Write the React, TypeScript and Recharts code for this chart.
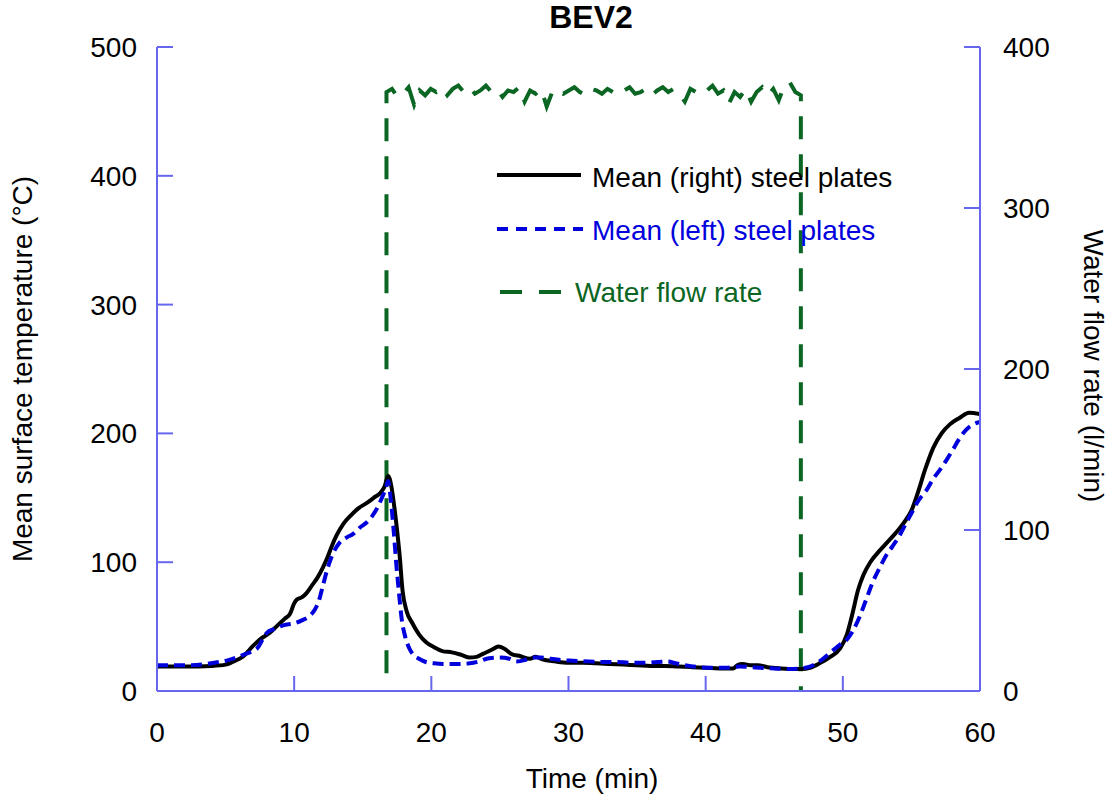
import { ComposedChart, Line, XAxis, YAxis, Legend } from "recharts"

const FONT = "'Liberation Sans', Arial, Helvetica, sans-serif"
const AXIS = "#6666ee"
const BLACK = "#000000"
const BLUE = "#0000dd"
const GREEN = "#0b6623"

const timeTicks = [0, 10, 20, 30, 40, 50, 60]
const tempTicks = [0, 100, 200, 300, 400, 500]
const flowTicks = [0, 100, 200, 300, 400]

// mean (right) steel plates, time in min / temperature in °C
const rightTimes = [
  0, 2, 4, 5, 5.5, 6.3, 7, 7.5, 8.2, 8.7, 9.3, 9.7, 10, 10.2, 10.6, 10.9, 11.3, 11.7, 12.1, 12.4,
  12.8, 13.1, 13.6, 14.1, 14.7, 15.3, 15.8, 16.3, 16.6, 16.85, 17.1, 17.3, 17.5, 17.7, 17.9, 18.2,
  18.6, 19.1, 19.6, 20.2, 20.8, 21.5, 22.2, 22.8, 23.3, 23.8, 24.4, 24.9, 25.3, 25.8, 26.5, 27.2,
  27.6, 28.1, 29, 30, 31, 32, 33, 34, 35, 36, 37, 38, 39, 40, 41, 42, 42.3, 42.7, 43.3, 43.8, 44.5,
  45.5, 46.5, 47, 47.6, 48.3, 49, 49.8, 50.3, 50.7, 51.1, 51.5, 52, 52.6, 53.2, 53.8, 54.4, 55,
  55.5, 56, 56.6, 57.2, 57.8, 58.5, 59.2, 60,
]
const rightTemps = [
  19, 19, 19.5, 20.5, 22.5, 27, 35, 40, 45, 50, 56, 60, 68, 71, 73, 76, 82, 88, 96, 103,
  114, 121, 130, 136, 142, 146, 150, 154, 159, 167, 158, 143, 125, 104, 78, 62,
  53, 44, 38, 34, 31, 30, 28, 26, 26.5, 29, 32, 34.5, 33, 29, 27, 25,
  26.5, 24.5, 23, 22, 22, 21.5, 21, 20.5, 20, 19.5, 19.5, 19, 18.5, 18, 17.5, 17.5, 20, 21, 20, 20, 18.5,
  17.5, 17, 17, 18, 21.5, 26, 33, 44, 60, 78, 90, 100, 108, 115, 122, 130, 140,
  155, 172, 189, 200, 207, 212, 216, 215,
]

// mean (left) steel plates
const leftTimes = [
  0, 2, 3.6, 4.5, 5.2, 5.8, 6.5, 7, 7.3, 7.7, 8, 8.5, 9.2, 10, 10.6, 11.1, 11.5, 11.8, 12.1, 12.4,
  12.8, 13.3, 13.8, 14.3, 14.8, 15.3, 15.7, 16.1, 16.4, 16.7, 16.85, 17.05, 17.25, 17.45, 17.65,
  17.85, 18.1, 18.4, 18.7, 19.1, 19.6, 20.2, 21, 22, 22.8, 23.5, 24.2, 25, 25.7, 26.2, 26.8, 27.3,
  28, 28.7, 29.5, 30.3, 31.5, 32.5, 33.5, 34.5, 35.5, 36.5, 37.2, 37.8, 38.5, 39.5, 40.5, 41.5,
  42.5, 43.3, 44, 45, 46, 46.9, 47.6, 48.3, 49.1, 49.8, 50.3, 50.8, 51.2, 51.7, 52.2, 52.7, 53.2,
  53.6, 54.1, 54.6, 55, 55.4, 55.8, 56.1, 56.6, 57.1, 57.6, 58, 58.5, 59, 59.5, 60,
]
const leftTemps = [
  20, 20, 21, 22.5, 24, 26, 29, 31, 33, 40, 45, 48, 51, 52.5, 55, 58, 63, 70, 82, 94,
  106, 115, 119, 122, 127, 131, 136, 143, 150, 158, 163, 148, 125, 98, 75,
  55, 42, 33, 28, 25, 22.5, 21.5, 21, 21, 21.5, 23, 25.5, 26, 25, 23, 24, 26,
  26, 25, 24, 23.5, 23, 22.5, 22.5, 22, 22, 22.5, 23, 21.5, 20, 18.5, 18, 18,
  19, 18.5, 18, 17.5, 17, 17.5, 19, 23, 30, 36, 40, 48, 57, 71, 85, 96, 106,
  112, 120, 130, 138, 146, 152, 156, 165, 172, 180, 187, 196, 203, 207, 209,
]

// water flow rate (l/min), sampled evenly between onset and stop
const flowStart = 16.73
const flowEnd = 46.94
const flowOnset = 11
const flowValues = [
  372, 374, 369, 371, 375, 364, 373, 370, 374, 372,
  375, 370, 374, 376, 372, 375, 371, 373, 376, 372,
  374, 369, 373, 372, 375, 366, 373, 371, 374, 363,
  372, 374, 371, 373, 375, 372, 370, 374, 373, 371,
  374, 372, 370, 373, 375, 371, 372, 374, 370, 373,
  375, 372, 374, 371, 366, 374, 372, 375, 373, 376,
  371, 373, 365, 372, 369, 374, 366, 372, 375, 370,
  374, 367, 376, 378, 372, 370,
]

const rightPlates = rightTimes.map((t, i) => ({ t, temp: rightTemps[i] }))
const leftPlates = leftTimes.map((t, i) => ({ t, temp: leftTemps[i] }))
const flowStep = (flowEnd - flowStart) / (flowValues.length - 1)
const flow = [
  { t: flowStart, flow: flowOnset },
  ...flowValues.map((v, i) => ({ t: flowStart + i * flowStep, flow: v })),
  { t: flowEnd, flow: 0 },
]

const label = { fontSize: 28, fontFamily: FONT, fill: "#000" }

const LeftTick = (props: any) => {
  const { x, y, payload } = props
  return (
    <g>
      <line x1={x} x2={x + 16} y1={y} y2={y} stroke={AXIS} strokeWidth={2} />
      <text x={x - 20} y={y + 10} textAnchor="end" {...label}>{payload.value}</text>
    </g>
  )
}

const RightTick = (props: any) => {
  const { x, y, payload } = props
  return (
    <g>
      <line x1={x} x2={x - 16} y1={y} y2={y} stroke={AXIS} strokeWidth={2} />
      <text x={x + 23} y={y + 10} textAnchor="start" {...label}>{payload.value}</text>
    </g>
  )
}

const BottomTick = (props: any) => {
  const { x, y, payload } = props
  return (
    <g>
      <line x1={x} x2={x} y1={y} y2={y - 15} stroke={AXIS} strokeWidth={2} />
      <text x={x} y={y + 51} textAnchor="middle" {...label}>{payload.value}</text>
    </g>
  )
}

const TopTick = (props: any) => {
  const { x, y } = props
  return <line x1={x} x2={x} y1={y} y2={y + 15} stroke={AXIS} strokeWidth={2} />
}

const renderLegend = () => (
  <svg width={440} height={170} style={{ display: "block" }}>
    <line x1={17} x2={101} y1={25} y2={25} stroke={BLACK} strokeWidth={4} />
    <text x={112} y={37} {...label}>Mean (right) steel plates</text>
    <line x1={17} x2={103} y1={79} y2={79} stroke={BLUE} strokeWidth={4} strokeDasharray="11 8" />
    <text x={112} y={90} {...label} fill={BLUE}>Mean (left) steel plates</text>
    <line x1={20} x2={81} y1={142} y2={142} stroke={GREEN} strokeWidth={4} strokeDasharray="22 17" />
    <text x={95} y={152} {...label} fill={GREEN}>Water flow rate</text>
  </svg>
)

export default function App() {
  return (
    <div style={{ position: "absolute", left: 0, top: 0, background: "#fff" }}>
      <ComposedChart width={1112} height={802} margin={{ top: 47, right: 0, bottom: 0, left: 0 }}>
        <XAxis
          xAxisId="bottom"
          dataKey="t"
          type="number"
          domain={[0, 60]}
          ticks={timeTicks}
          interval={0}
          height={111}
          allowDataOverflow
          axisLine={{ stroke: AXIS, strokeWidth: 2 }}
          tickLine={false}
          tickSize={0}
          tickMargin={0}
          tick={<BottomTick />}
        />
        <XAxis
          xAxisId="top"
          orientation="top"
          dataKey="t"
          type="number"
          domain={[0, 60]}
          ticks={timeTicks}
          interval={0}
          height={0}
          allowDataOverflow
          axisLine={{ stroke: AXIS, strokeWidth: 2 }}
          tickLine={false}
          tickSize={0}
          tickMargin={0}
          tick={<TopTick />}
        />
        <YAxis
          yAxisId="temp"
          orientation="left"
          type="number"
          width={157}
          domain={[0, 500]}
          ticks={tempTicks}
          interval={0}
          allowDataOverflow
          axisLine={{ stroke: AXIS, strokeWidth: 2 }}
          tickLine={false}
          tickSize={0}
          tickMargin={0}
          tick={<LeftTick />}
        />
        <YAxis
          yAxisId="flow"
          orientation="right"
          type="number"
          width={132}
          domain={[0, 400]}
          ticks={flowTicks}
          interval={0}
          allowDataOverflow
          axisLine={{ stroke: AXIS, strokeWidth: 2 }}
          tickLine={false}
          tickSize={0}
          tickMargin={0}
          tick={<RightTick />}
        />
        <Legend
          layout="vertical"
          align="center"
          verticalAlign="middle"
          wrapperStyle={{ left: 480, top: 150, width: 440, height: 170 }}
          content={renderLegend}
        />
        <Line
          data={flow}
          xAxisId="bottom"
          yAxisId="flow"
          dataKey="flow"
          name="Water flow rate"
          type="linear"
          stroke={GREEN}
          strokeWidth={4}
          strokeDasharray="23 15"
          dot={false}
          isAnimationActive={false}
        />
        <Line
          data={rightPlates}
          xAxisId="bottom"
          yAxisId="temp"
          dataKey="temp"
          name="Mean (right) steel plates"
          type="monotone"
          stroke={BLACK}
          strokeWidth={4}
          dot={false}
          isAnimationActive={false}
        />
        <Line
          data={leftPlates}
          xAxisId="bottom"
          yAxisId="temp"
          dataKey="temp"
          name="Mean (left) steel plates"
          type="monotone"
          stroke={BLUE}
          strokeWidth={4}
          strokeDasharray="11 6"
          dot={false}
          isAnimationActive={false}
        />
        <text x={591} y={28} textAnchor="middle" fontSize={32} fontWeight="bold" fontFamily={FONT}>BEV2</text>
        <text x={592} y={788} textAnchor="middle" {...label}>Time (min)</text>
        <text x={32} y={369} textAnchor="middle" transform="rotate(-90 32 369)" {...label}>
          Mean surface temperature (°C)
        </text>
        <text x={1084} y={366} textAnchor="middle" transform="rotate(90 1084 366)" {...label}>
          Water flow rate (l/min)
        </text>
      </ComposedChart>
    </div>
  )
}
